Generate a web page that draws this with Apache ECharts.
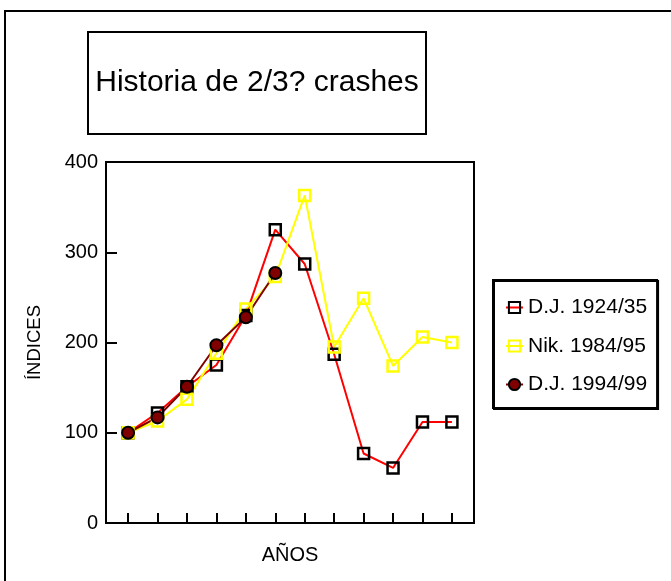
<!DOCTYPE html>
<html>
<head>
    <meta charset="UTF-8">
    <title>Historia de 2/3? crashes</title>
    <script src="https://cdn.jsdelivr.net/npm/echarts/dist/echarts.min.js"></script>
</head>
<body style="margin:0;background:#fff;">
    <div id="main" style="width: 671px;height:581px;"></div>
    <script type="text/javascript">
        var myChart = echarts.init(document.getElementById('main'));

        // datos
        var periodos = [1, 2, 3, 4, 5, 6, 7, 8, 9, 10, 11, 12];
        var dj1924 = [100, 122, 151, 175, 230, 325, 287, 187, 77, 61, 112, 112];
        var nik1984 = [100, 113, 137, 188, 237, 273, 363, 195, 249, 174, 206, 200];
        var dj1994 = [100, 117, 151, 197, 228, 277];
        var yTicks = [0, 100, 200, 300, 400];

        function pares(valores) {
            return valores.map(function (v, i) { return [periodos[i], v]; });
        }

        var fuente = 'Liberation Sans, Arial, sans-serif';

        var option = {
            animation: false,
            textStyle: { fontFamily: fuente, color: '#000' },
            graphic: [
                {
                    type: 'rect',
                    shape: { x: 5, y: 11, width: 700, height: 620 },
                    style: { fill: 'none', stroke: '#000', lineWidth: 2 }
                },
                {
                    type: 'rect',
                    shape: { x: 88, y: 32, width: 338, height: 102 },
                    style: { fill: '#fff', stroke: '#000', lineWidth: 2 }
                },
                {
                    type: 'text',
                    x: 257,
                    y: 83,
                    style: {
                        text: 'Historia de 2/3? crashes',
                        font: '30px ' + fuente,
                        fill: '#000',
                        align: 'center',
                        verticalAlign: 'middle'
                    }
                }
            ],
            legend: {
                orient: 'vertical',
                left: 493,
                top: 280,
                padding: [17, 10, 13, 12],
                itemGap: 17.5,
                itemWidth: 17,
                itemHeight: 14,
                borderColor: '#000',
                borderWidth: 2,
                backgroundColor: '#fff',
                shadowColor: '#000',
                shadowOffsetX: 1,
                shadowOffsetY: 1,
                shadowBlur: 0,
                textStyle: { fontSize: 21, color: '#000', fontFamily: fuente }
            },
            grid: {
                left: 106,
                top: 162,
                right: 197,
                bottom: 58,
                show: true,
                borderColor: '#000',
                borderWidth: 2
            },
            xAxis: {
                type: 'value',
                min: 0.25,
                max: 12.75,
                name: 'AÑOS',
                nameLocation: 'middle',
                nameGap: 22,
                nameTextStyle: { fontSize: 20, color: '#000' },
                axisLine: { lineStyle: { color: '#000', width: 2 } },
                axisTick: { inside: true, length: 10, customValues: periodos, lineStyle: { color: '#000', width: 2 } },
                axisLabel: { show: false },
                splitLine: { show: false }
            },
            yAxis: {
                type: 'value',
                min: yTicks[0],
                max: yTicks[yTicks.length - 1],
                interval: 100,
                name: 'ÍNDICES',
                nameLocation: 'middle',
                nameRotate: 90,
                nameGap: 62,
                nameTextStyle: { fontSize: 18.5, color: '#000' },
                axisLine: { show: true, lineStyle: { color: '#000', width: 2 } },
                axisTick: { show: true, inside: true, length: 11, lineStyle: { color: '#000', width: 2 } },
                axisLabel: { fontSize: 20, color: '#000', margin: 8 },
                splitLine: { show: false }
            },
            series: [
                {
                    name: 'D.J. 1924/35',
                    type: 'line',
                    data: pares(dj1924),
                    symbol: 'rect',
                    symbolSize: 11,
                    lineStyle: { color: '#ff0000', width: 2 },
                    itemStyle: { color: 'rgba(0,0,0,0)', borderColor: '#000', borderWidth: 2.5 }
                },
                {
                    name: 'Nik. 1984/95',
                    type: 'line',
                    data: pares(nik1984),
                    symbol: 'rect',
                    symbolSize: 11,
                    lineStyle: { color: '#ffff00', width: 2 },
                    itemStyle: { color: 'rgba(0,0,0,0)', borderColor: '#ffff00', borderWidth: 2.5 }
                },
                {
                    name: 'D.J. 1994/99',
                    type: 'line',
                    data: pares(dj1994),
                    symbol: 'circle',
                    symbolSize: 12,
                    lineStyle: { color: '#800000', width: 2 },
                    itemStyle: { color: '#800000', borderColor: '#000', borderWidth: 2 }
                }
            ]
        };

        myChart.setOption(option);
    </script>
</body>
</html>
